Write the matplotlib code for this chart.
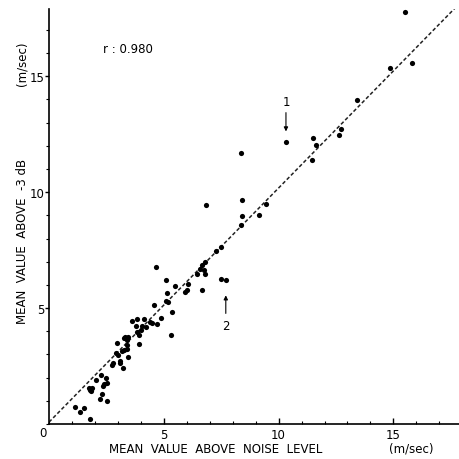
import matplotlib
matplotlib.use("Agg")
import matplotlib.pyplot as plt
from matplotlib.ticker import MultipleLocator

# mean value above noise level (m/sec)
x_noise = [15.49, 14.87, 15.81, 13.42, 11.51, 11.63, 12.62, 12.72, 10.32, 11.44,
           8.36, 8.42, 8.42, 9.45, 9.15, 6.84, 8.35, 7.48, 7.26,
           6.80, 6.65, 6.58, 6.75, 6.78, 6.46, 6.68, 7.48, 7.71,
           6.05, 6.03, 5.91, 5.49, 5.08, 5.15, 5.08, 5.20, 5.37, 5.33,
           4.66, 4.57, 4.89, 4.71, 4.50, 4.39, 4.24, 4.06, 4.13, 3.99,
           3.94, 3.84, 3.91, 3.84, 3.62, 3.81, 3.41, 3.33, 3.26, 3.43,
           3.38, 3.26, 3.38, 3.43, 3.19, 2.94, 2.90, 3.00, 3.11, 3.08,
           3.21, 2.79, 2.76, 2.49, 2.53, 2.41, 2.34, 2.27, 2.05, 1.88,
           1.77, 1.73, 1.83, 2.31, 2.24, 2.53, 1.12, 1.37, 1.51, 1.80]
# mean value above -3 dB (m/sec)
y_3db = [17.78, 15.37, 15.57, 13.98, 12.34, 12.03, 12.45, 12.74, 12.15, 11.40,
         11.69, 9.65, 8.97, 9.48, 9.00, 9.45, 8.57, 7.65, 7.48,
         6.98, 6.84, 6.70, 6.64, 6.45, 6.49, 5.80, 6.26, 6.20,
         6.06, 5.77, 5.68, 5.97, 6.23, 5.66, 5.30, 5.25, 4.82, 3.85,
         6.77, 5.15, 4.58, 4.33, 4.36, 4.40, 4.19, 4.21, 4.55, 4.07,
         3.85, 3.95, 3.46, 4.53, 4.43, 4.21, 3.64, 3.75, 3.71, 3.74,
         3.42, 3.20, 3.23, 2.91, 3.13, 3.49, 3.06, 2.99, 2.73, 2.63,
         2.41, 2.65, 2.55, 1.98, 1.79, 1.72, 1.66, 2.12, 1.90, 1.55,
         1.47, 1.55, 1.44, 1.30, 1.08, 1.00, 0.75, 0.53, 0.68, 0.22]

# regression line
fit_slope = 1.01
fit_intercept = 0.08
r_value = "0.980"

xmax = 17.9
ymax = 17.9

fig = plt.figure(figsize=(4.6, 4.6), dpi=100)
ax = fig.add_axes([49 / 460, 35 / 460, 411 / 460, 415 / 460])

ax.scatter(x_noise, y_3db, s=14, c="black", linewidths=0, zorder=3)
ax.plot([0, xmax], [fit_intercept, fit_intercept + fit_slope * xmax],
        color="#222222", linestyle=(0, (2.4, 1.5)), linewidth=1.1)

ax.set_xlim(0, xmax)
ax.set_ylim(0, ymax)
for side in ["top", "right"]:
    ax.spines[side].set_visible(False)
ax.spines["left"].set_linewidth(1.2)
ax.spines["bottom"].set_linewidth(1.2)

ax.xaxis.set_minor_locator(MultipleLocator(1))
ax.yaxis.set_minor_locator(MultipleLocator(1))
ax.set_xticks([5, 10, 15])
ax.set_yticks([5, 10, 15])
ax.tick_params(axis="x", which="major", direction="in", length=4, width=1, pad=3, labelsize=8.5)
ax.tick_params(axis="x", which="minor", direction="in", length=2.5, width=0.8)
ax.tick_params(axis="y", which="major", direction="out", length=3, width=1, pad=0.5, labelsize=8.5)
ax.tick_params(axis="y", which="minor", direction="out", length=2, width=0.8)

ax.text(-0.26, -0.36, "0", fontsize=8.5, ha="center", va="center", clip_on=False)

ax.text(7.24, -1.04, "MEAN  VALUE  ABOVE  NOISE  LEVEL", fontsize=8.5, ha="center", va="center", clip_on=False)
ax.text(15.78, -1.04, "(m/sec)", fontsize=8.5, ha="center", va="center", clip_on=False)
ax.text(-1.17, 7.9, "MEAN  VALUE  ABOVE  -3 dB", fontsize=8.5, ha="center", va="center",
        rotation=90, clip_on=False)
ax.text(-1.17, 15.6, "(m/sec)", fontsize=8.5, ha="center", va="center", rotation=90, clip_on=False)

ax.text(2.37, 16.2, f"r : {r_value}", fontsize=8.5, ha="left", va="center")

ax.text(10.32, 13.9, "1", fontsize=8.5, ha="center", va="center")
ax.annotate("", xy=(10.32, 12.5), xytext=(10.32, 13.55),
            arrowprops=dict(arrowstyle="-|>", color="black", lw=0.8, mutation_scale=6))
ax.text(7.70, 4.24, "2", fontsize=8.5, ha="center", va="center")
ax.annotate("", xy=(7.70, 5.67), xytext=(7.70, 4.65),
            arrowprops=dict(arrowstyle="-|>", color="black", lw=0.8, mutation_scale=6))

fig.savefig("out.png", dpi=100)
